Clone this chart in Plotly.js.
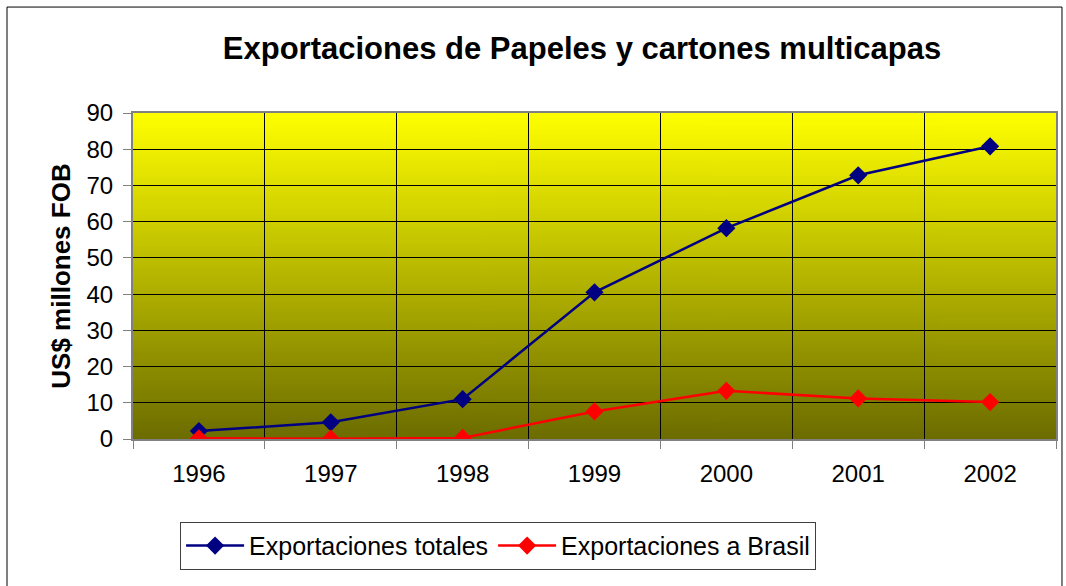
<!DOCTYPE html>
<html><head><meta charset="utf-8">
<script src="https://cdn.plot.ly/plotly-3.0.1.min.js"></script>
<style>html,body{margin:0;padding:0;background:#fff}#chart{width:1066px;height:586px}</style>
</head><body><div id="chart"></div>
<script>
const years = ['1996','1997','1998','1999','2000','2001','2002'];
const totales = [2.2, 4.6, 11.0, 40.5, 58.2, 72.8, 80.8];
const brasil = [0.2, 0.1, 0.3, 7.6, 13.3, 11.2, 10.2];
const seriesNames = ['Exportaciones totales', 'Exportaciones a Brasil'];

// gradient background image
const cv = document.createElement('canvas');
cv.width = 4; cv.height = 256;
const ctx = cv.getContext('2d');
const g = ctx.createLinearGradient(0, 0, 0, 256);
g.addColorStop(0, 'rgb(255,255,0)');
g.addColorStop(1, 'rgb(108,108,0)');
ctx.fillStyle = g; ctx.fillRect(0, 0, 4, 256);
const bg = cv.toDataURL();

const font = 'Liberation Sans, Arial, sans-serif';
const traces = [
  {x: years, y: totales, name: seriesNames[0], type: 'scatter', mode: 'lines+markers',
   line: {color: '#000080', width: 2.5}, marker: {symbol: 'diamond', size: 14, color: '#000080'}},
  {x: years, y: brasil, name: seriesNames[1], type: 'scatter', mode: 'lines+markers',
   line: {color: '#FF0000', width: 2.5}, marker: {symbol: 'diamond', size: 14, color: '#FF0000'}}
];
const layout = {
  width: 1066, height: 586,
  margin: {l: 133, r: 10, t: 113, b: 147},
  paper_bgcolor: '#fff', plot_bgcolor: 'rgba(0,0,0,0)',
  font: {family: font, color: '#000', size: 24},
  title: {text: '<b>Exportaciones de Papeles y cartones multicapas</b>', font: {family: font, size: 31, color: '#000'},
          x: 0.546, xanchor: 'center', y: 0.918, yanchor: 'middle'},
  xaxis: {type: 'category', tickson: 'boundaries', showgrid: true, gridcolor: '#000', gridwidth: 1,
          ticks: 'outside', ticklen: 8, tickcolor: '#808080', tickwidth: 1,
          showline: true, linecolor: '#808080', linewidth: 2, mirror: true,
          tickfont: {size: 24, family: font}, ticklabelstandoff: 12, range: [-0.5, 6.5], fixedrange: true},
  yaxis: {range: [0, 90], dtick: 10, showgrid: true, gridcolor: '#000', gridwidth: 1,
          ticks: 'outside', ticklen: 8, tickcolor: '#808080', tickwidth: 1,
          showline: true, linecolor: '#808080', linewidth: 2, mirror: true, zeroline: false,
          tickfont: {size: 24, family: font}, ticklabelstandoff: 5,
          title: {text: '<b>US$ millones FOB</b>', font: {size: 26, family: font}, standoff: 8}},
  legend: {orientation: 'h', x: 0.051, xanchor: 'left', y: -0.254, yanchor: 'top',
           bordercolor: '#404040', borderwidth: 1, bgcolor: '#fff', font: {size: 25, family: font},
           itemwidth: 58, tracegroupgap: 0},
  images: [{source: bg, xref: 'paper', yref: 'paper', x: 0, y: 1, sizex: 1, sizey: 1,
            xanchor: 'left', yanchor: 'top', sizing: 'stretch', layer: 'below'}],
  shapes: [{type: 'rect', xref: 'paper', yref: 'paper', x0: -0.1365, x1: 1.0065, y0: -0.6, y1: 1.325,
            line: {color: '#000', width: 1}, fillcolor: 'rgba(0,0,0,0)', layer: 'below'}],
  showlegend: true
};
Plotly.newPlot('chart', traces, layout, {staticPlot: true});
</script></body></html>
